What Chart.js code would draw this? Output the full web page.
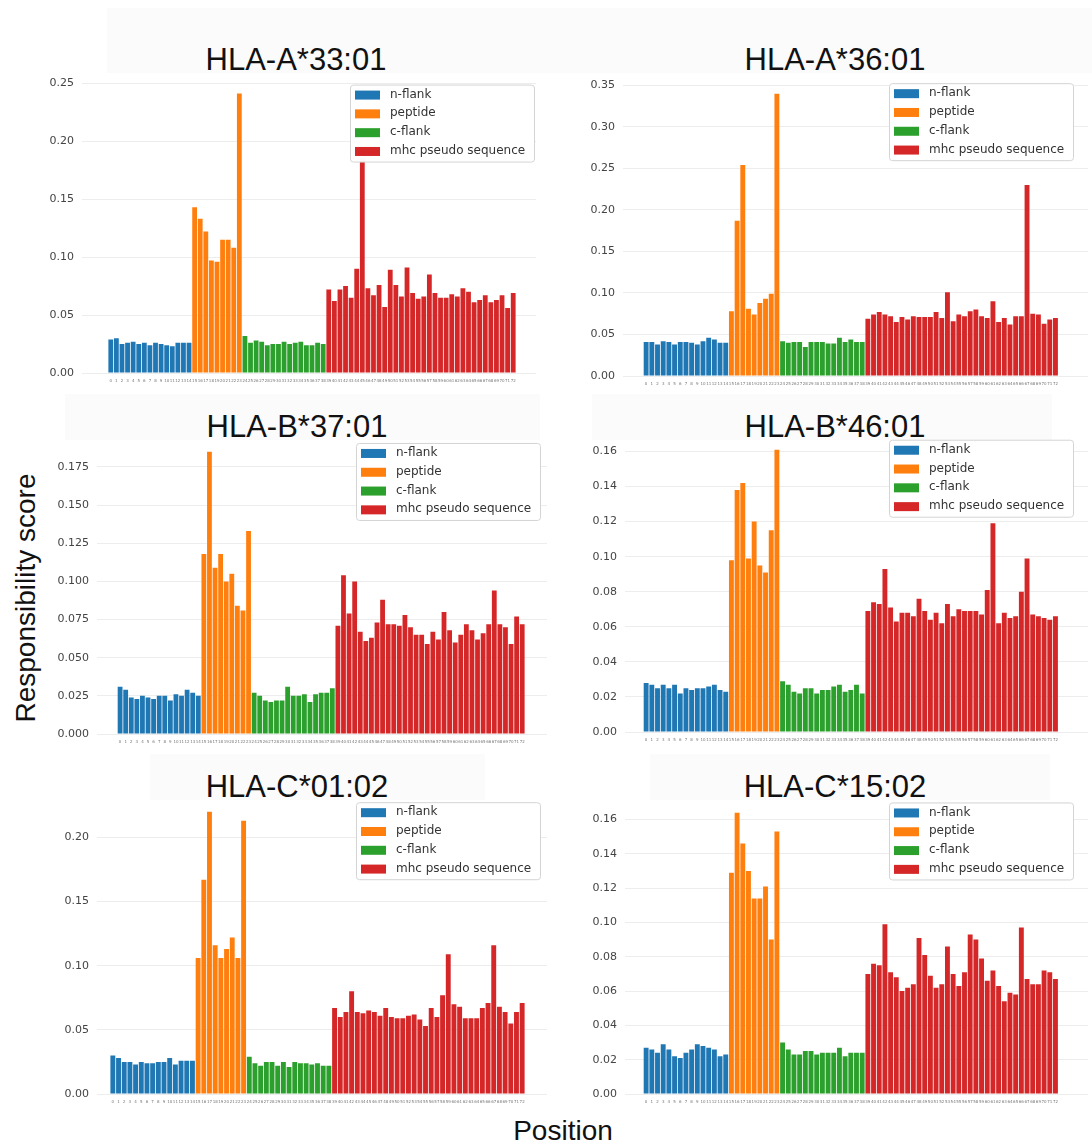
<!DOCTYPE html>
<html>
<head>
<meta charset="utf-8">
<script src="https://cdn.jsdelivr.net/npm/chart.js@4.4.1/dist/chart.umd.min.js"></script>
<style>
  html, body { margin: 0; padding: 0; background: #fff; }
  #page { position: relative; width: 1092px; height: 1144px; overflow: hidden; font-family: "Liberation Sans", Arial, sans-serif; }
  .strip { position: absolute; background: #fbfbfb; }
  .title { position: absolute; width: 400px; text-align: center; font-size: 31px; line-height: 31px; color: #111; white-space: nowrap; }
  .panel { position: absolute; }
  #ylab { position: absolute; left: 26px; top: 598px; font-size: 28px; line-height: 28px; color: #111;
          transform: translate(-50%, -50%) rotate(-90deg); white-space: nowrap; }
  #xlab { position: absolute; left: 363px; top: 1117px; width: 400px; text-align: center; font-size: 28px; line-height: 28px; color: #111; }
</style>
</head>
<body>
<div id="page">
  <div id="ylab">Responsibility score</div>
  <div id="xlab">Position</div>
</div>
<script>
/* ── Data ─────────────────────────────────────────────────── */
const positions = Array.from({ length: 73 }, (_, i) => i);   // x tick labels 0..72
const seriesNames  = ['n-flank', 'peptide', 'c-flank', 'mhc pseudo sequence'];
const seriesColors = ['#1f77b4', '#ff7f0e', '#2ca02c', '#d62728'];

const a3301_nflank  = [0.029,0.030,0.025,0.026,0.027,0.025,0.026,0.024,0.026,0.025,0.024,0.023,0.026,0.026,0.026];
const a3301_peptide = [0.143,0.133,0.122,0.097,0.096,0.115,0.115,0.108,0.241];
const a3301_cflank  = [0.032,0.026,0.028,0.027,0.024,0.025,0.025,0.027,0.025,0.026,0.027,0.024,0.024,0.026,0.025];
const a3301_mhc     = [0.072,0.062,0.072,0.075,0.065,0.090,0.185,0.073,0.067,0.076,0.057,0.089,0.076,0.066,0.091,0.069,0.064,
                       0.066,0.085,0.069,0.065,0.065,0.068,0.066,0.073,0.070,0.061,0.063,0.067,0.061,0.063,0.067,0.056,0.069];
const a3301_yticks  = [0, 0.05, 0.10, 0.15, 0.20, 0.25];

const a3601_nflank  = [0.041,0.041,0.038,0.042,0.041,0.038,0.041,0.041,0.040,0.038,0.042,0.046,0.044,0.040,0.040];
const a3601_peptide = [0.078,0.187,0.254,0.081,0.074,0.088,0.093,0.099,0.340];
const a3601_cflank  = [0.042,0.040,0.041,0.041,0.035,0.041,0.041,0.041,0.039,0.039,0.046,0.041,0.044,0.041,0.041];
const a3601_mhc     = [0.069,0.074,0.077,0.074,0.072,0.065,0.071,0.068,0.072,0.071,0.071,0.071,0.077,0.070,0.101,0.066,0.074,
                       0.072,0.078,0.080,0.072,0.070,0.090,0.065,0.070,0.062,0.072,0.072,0.230,0.075,0.074,0.063,0.068,0.070];
const a3601_yticks  = [0, 0.05, 0.10, 0.15, 0.20, 0.25, 0.30, 0.35];

const b3701_nflank  = [0.031,0.029,0.024,0.023,0.025,0.024,0.023,0.025,0.025,0.022,0.026,0.025,0.029,0.027,0.025];
const b3701_peptide = [0.118,0.185,0.109,0.118,0.100,0.105,0.084,0.081,0.133];
const b3701_cflank  = [0.027,0.025,0.022,0.021,0.022,0.022,0.031,0.025,0.025,0.026,0.021,0.026,0.027,0.027,0.030];
const b3701_mhc     = [0.071,0.104,0.079,0.100,0.067,0.061,0.063,0.073,0.088,0.072,0.072,0.071,0.078,0.070,0.065,0.065,0.059,
                       0.067,0.062,0.080,0.068,0.060,0.065,0.072,0.068,0.062,0.066,0.072,0.094,0.072,0.070,0.059,0.077,0.072];
const b3701_yticks  = [0, 0.025, 0.05, 0.075, 0.10, 0.125, 0.15, 0.175];

const b4601_nflank  = [0.028,0.027,0.025,0.027,0.025,0.027,0.022,0.025,0.024,0.025,0.025,0.026,0.027,0.024,0.023];
const b4601_peptide = [0.098,0.138,0.142,0.099,0.120,0.095,0.091,0.115,0.161];
const b4601_cflank  = [0.029,0.027,0.023,0.022,0.025,0.025,0.022,0.024,0.024,0.026,0.027,0.023,0.024,0.027,0.022];
const b4601_mhc     = [0.069,0.074,0.073,0.093,0.071,0.063,0.068,0.068,0.066,0.076,0.069,0.064,0.068,0.062,0.073,0.066,0.070,
                       0.069,0.069,0.069,0.067,0.081,0.119,0.062,0.068,0.065,0.066,0.080,0.099,0.067,0.066,0.065,0.064,0.066];
const b4601_yticks  = [0, 0.02, 0.04, 0.06, 0.08, 0.10, 0.12, 0.14, 0.16];

const c0102_nflank  = [0.030,0.028,0.025,0.025,0.023,0.025,0.024,0.024,0.025,0.025,0.028,0.023,0.026,0.026,0.026];
const c0102_peptide = [0.106,0.167,0.220,0.116,0.106,0.113,0.122,0.106,0.213];
const c0102_cflank  = [0.029,0.024,0.022,0.025,0.025,0.022,0.025,0.021,0.025,0.024,0.024,0.023,0.024,0.022,0.022];
const c0102_mhc     = [0.067,0.060,0.064,0.080,0.064,0.063,0.065,0.064,0.061,0.067,0.060,0.059,0.059,0.061,0.062,0.058,0.053,
                       0.067,0.060,0.077,0.109,0.070,0.068,0.059,0.059,0.059,0.067,0.071,0.116,0.068,0.064,0.055,0.064,0.071];
const c0102_yticks  = [0, 0.05, 0.10, 0.15, 0.20];

const c1502_nflank  = [0.027,0.026,0.024,0.029,0.026,0.022,0.021,0.024,0.026,0.029,0.028,0.027,0.026,0.022,0.023];
const c1502_peptide = [0.129,0.164,0.146,0.130,0.114,0.114,0.121,0.090,0.153];
const c1502_cflank  = [0.030,0.026,0.023,0.023,0.025,0.025,0.023,0.024,0.024,0.024,0.027,0.022,0.024,0.024,0.024];
const c1502_mhc     = [0.070,0.076,0.075,0.099,0.071,0.068,0.060,0.062,0.064,0.091,0.081,0.069,0.062,0.064,0.086,0.070,0.063,
                       0.071,0.093,0.090,0.079,0.066,0.072,0.063,0.054,0.059,0.058,0.097,0.067,0.064,0.064,0.072,0.071,0.067];
const c1502_yticks  = [0, 0.02, 0.04, 0.06, 0.08, 0.10, 0.12, 0.14, 0.16];

/* ── Panel layout (page pixels) ───────────────────────────── */
const panels = [
  { title: 'HLA-A*33:01', series: [a3301_nflank, a3301_peptide, a3301_cflank, a3301_mhc], yticks: a3301_yticks, dp: 2,
    left: 82,  right: 536,  zeroY: 374,   tickY: 81,    barStart: 108,   barEnd: 516,
    legend: [350, 85],  strip: [107, 8, 470, 65],   titleX: 296, baseY: 70 },
  { title: 'HLA-A*36:01', series: [a3601_nflank, a3601_peptide, a3601_cflank, a3601_mhc], yticks: a3601_yticks, dp: 2,
    left: 623, right: 1088, zeroY: 376,   tickY: 82.7,  barStart: 643.3, barEnd: 1058.3,
    legend: [889, 83],  strip: [577, 8, 515, 65],   titleX: 835, baseY: 70 },
  { title: 'HLA-B*37:01', series: [b3701_nflank, b3701_peptide, b3701_cflank, b3701_mhc], yticks: b3701_yticks, dp: 3,
    left: 97,  right: 547,  zeroY: 734.3, tickY: 464.7, barStart: 117.3, barEnd: 525,
    legend: [356, 443], strip: [65, 394, 475, 46],  titleX: 297, baseY: 437 },
  { title: 'HLA-B*46:01', series: [b4601_nflank, b4601_peptide, b4601_cflank, b4601_mhc], yticks: b4601_yticks, dp: 2,
    left: 625, right: 1088, zeroY: 732.7, tickY: 449.3, barStart: 643.3, barEnd: 1058.3,
    legend: [889, 440], strip: [592, 394, 460, 46], titleX: 835, baseY: 437 },
  { title: 'HLA-C*01:02', series: [c0102_nflank, c0102_peptide, c0102_cflank, c0102_mhc], yticks: c0102_yticks, dp: 2,
    left: 97,  right: 547,  zeroY: 1094.3, tickY: 835,  barStart: 110,   barEnd: 525,
    legend: [356, 802], strip: [150, 754, 335, 46], titleX: 297, baseY: 797 },
  { title: 'HLA-C*15:02', series: [c1502_nflank, c1502_peptide, c1502_cflank, c1502_mhc], yticks: c1502_yticks, dp: 2,
    left: 625, right: 1088, zeroY: 1094.3, tickY: 816.7, barStart: 643.3, barEnd: 1058.3,
    legend: [889, 802], strip: [650, 754, 400, 46], titleX: 835, baseY: 797 }
];

const YW = 60, XH = 16, PT = 12, PR = 4;

/* ── Boxed legend inside the plot (matplotlib style) ──────── */
const boxLegend = {
  id: 'boxLegend',
  afterDatasetsDraw(chart, args, opts) {
    const ctx = chart.ctx;
    const x = opts.x, y = opts.y, w = 184, h = 77;
    ctx.save();
    ctx.beginPath();
    ctx.roundRect(x + 0.5, y + 0.5, w, h, 3);
    ctx.fillStyle = 'rgba(255,255,255,0.97)';
    ctx.fill();
    ctx.strokeStyle = '#d4d4d4';
    ctx.lineWidth = 1;
    ctx.stroke();
    ctx.font = '12px "DejaVu Sans"';
    ctx.textBaseline = 'middle';
    chart.data.datasets.forEach((ds, i) => {
      const cy = y + 10 + i * 18.8;
      ctx.fillStyle = ds.backgroundColor;
      ctx.fillRect(x + 5, cy - 4, 25, 9);
      ctx.fillStyle = '#333';
      ctx.fillText(ds.label, x + 40, cy);
    });
    ctx.restore();
  }
};

/* ── Build one panel ──────────────────────────────────────── */
function buildPanel(p) {
  const page = document.getElementById('page');

  const strip = document.createElement('div');
  strip.className = 'strip';
  Object.assign(strip.style, { left: p.strip[0] + 'px', top: p.strip[1] + 'px', width: p.strip[2] + 'px', height: p.strip[3] + 'px' });
  page.appendChild(strip);

  const title = document.createElement('div');
  title.className = 'title';
  title.textContent = p.title;
  title.style.left = (p.titleX - 200) + 'px';
  title.style.top = (p.baseY - 26) + 'px';
  page.appendChild(title);

  const allVals = p.series.flat();
  const axisMax = Math.max(...allVals) * 1.05;          // matplotlib auto margin
  const topTick = p.yticks[p.yticks.length - 1];
  const unitY = (p.zeroY - p.tickY) / topTick;
  const areaTop = p.zeroY - axisMax * unitY;
  const areaH = p.zeroY - areaTop;
  const areaW = p.right - p.left;
  const unitX = (p.barEnd - p.barStart) / positions.length;
  const xMin = -0.5 - (p.barStart - p.left) / unitX;
  const xMax = positions.length - 0.5 + (p.right - p.barEnd) / unitX;

  const cLeft = p.left - YW, cTop = areaTop - PT;
  const canvas = document.createElement('canvas');
  canvas.className = 'panel';
  canvas.width = YW + areaW + PR;
  canvas.height = PT + areaH + XH;
  canvas.style.left = cLeft + 'px';
  canvas.style.top = cTop + 'px';
  page.appendChild(canvas);

  let offset = 0;
  const datasets = p.series.map((vals, s) => {
    const data = vals.map((v, i) => ({ x: positions[offset + i], y: v }));
    offset += vals.length;
    return {
      label: seriesNames[s],
      data,
      backgroundColor: seriesColors[s],
      borderWidth: 0,
      grouped: false,
      categoryPercentage: 1,
      barPercentage: 0.86
    };
  });

  new Chart(canvas.getContext('2d'), {
    type: 'bar',
    data: { datasets },
    options: {
      responsive: false,
      animation: false,
      devicePixelRatio: 1,
      layout: { padding: { top: PT, right: PR, left: 0, bottom: 0 } },
      plugins: {
        legend: { display: false },
        tooltip: { enabled: false },
        boxLegend: { x: p.legend[0] - cLeft, y: p.legend[1] - cTop }
      },
      scales: {
        x: {
          type: 'linear', min: xMin, max: xMax, offset: false,
          grid: { display: false, drawTicks: false },
          border: { display: false },
          afterBuildTicks: ax => { ax.ticks = positions.map(v => ({ value: v })); },
          afterFit: ax => { ax.height = XH; },
          ticks: { autoSkip: false, maxRotation: 0, minRotation: 0, padding: 6,
                   font: { family: 'DejaVu Sans', size: 4 }, color: '#777', callback: v => String(v) }
        },
        y: {
          min: 0, max: axisMax,
          afterBuildTicks: ax => { ax.ticks = p.yticks.map(v => ({ value: v })); },
          afterFit: ax => { ax.width = YW; },
          grid: { color: '#ededed', drawTicks: false },
          border: { display: false },
          ticks: { padding: 8, font: { family: 'DejaVu Sans', size: 11 }, color: '#444',
                   callback: v => Number(v).toFixed(p.dp) }
        }
      }
    },
    plugins: [boxLegend]
  });
}

panels.forEach(buildPanel);
</script>
</body>
</html>
